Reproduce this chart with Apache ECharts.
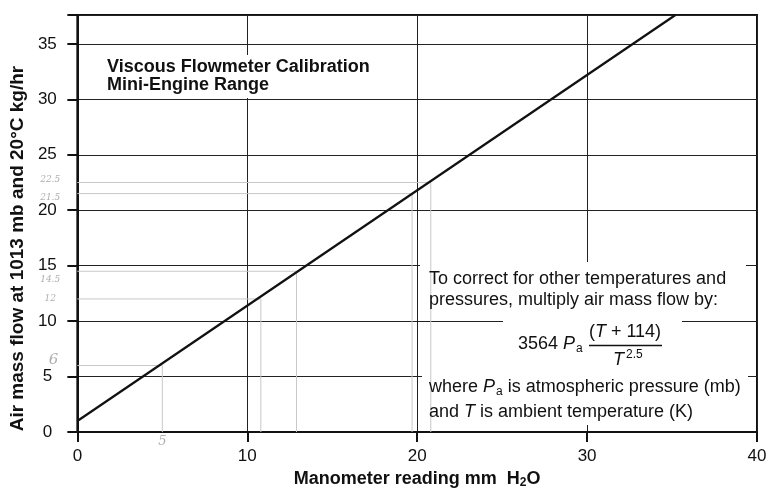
<!DOCTYPE html>
<html><head><meta charset="utf-8">
<script src="https://cdn.jsdelivr.net/npm/echarts@6/dist/echarts.min.js"></script>
<style>html,body{margin:0;padding:0;background:#fff}#c{width:770px;height:494px}</style>
</head><body><div id="c"></div>
<script>
// ---- data ----
const xTicks = [0, 10, 20, 30, 40];
const yTicks = [0, 5, 10, 15, 20, 25, 30, 35];
const calX = [0, 35.2];          // manometer reading (mm H2O)
const calY = [1.0, 37.6];        // air mass flow (kg/hr)
const readY = [22.5, 21.5, 14.5, 12, 6];   // pencil readings (flow)
const readX = [20.8, 19.7, 12.9, 10.8, 5.0]; // pencil readings (manometer)
const readLabels = ['22.5', '21.5', '14.5', '12', '6'];
const readLabelY = [22.8, 21.1, 13.7, 12.0, 6.5];
const readLabelSize = [9, 9, 9, 9, 15];
const readNoteX = [5];
const readNoteLabels = ['5'];

const FONT = '"Liberation Sans", Arial, sans-serif';
const chart = echarts.init(document.getElementById('c'), null, {renderer: 'canvas'});

const series = [];
series.push({
  type: 'line', name: 'calibration', z: 5,
  data: calX.map((x, i) => [x, calY[i]]),
  showSymbol: false, symbol: 'none',
  lineStyle: {color: '#111', width: 2.2}
});
readY.forEach((y, i) => {
  series.push({
    type: 'line', z: 4, silent: true, symbol: 'none',
    data: [[0, y], [readX[i], y], [readX[i], 0]],
    lineStyle: {color: '#c8c8c8', width: 1}
  });
});
// pencil notes
series.push({
  type: 'scatter', z: 4, silent: true, clip: false, symbolSize: 0,
  data: readLabels.map((t, i) => ({value: [i === 4 ? -1.4 : -1.6, readLabelY[i]], name: t,
    label: {fontSize: readLabelSize[i]}})),
  label: {show: true, position: 'inside', formatter: p => p.name,
    color: '#9a9a9a', fontFamily: '"DejaVu Serif", serif', fontStyle: 'italic', fontSize: 9}
});
series.push({
  type: 'scatter', z: 4, silent: true, clip: false, symbolSize: 0,
  data: readNoteX.map((x, i) => ({value: [x, -0.9], name: readNoteLabels[i]})),
  label: {show: true, position: 'inside', formatter: p => p.name,
    color: '#9a9a9a', fontFamily: '"DejaVu Serif", serif', fontStyle: 'italic', fontSize: 13}
});

const option = {
  animation: false,
  backgroundColor: '#fff',
  grid: {left: 77, right: 13, top: 15, bottom: 54, show: true, borderColor: '#111', borderWidth: 2, backgroundColor: 'transparent'},
  xAxis: {
    type: 'value', min: xTicks[0], max: xTicks[xTicks.length - 1], interval: 10,
    name: 'Manometer reading mm  H{sub|2}O',
    nameLocation: 'middle', nameGap: 28,
    nameTextStyle: {fontFamily: FONT, fontWeight: 'bold', fontSize: 18, color: '#111',
      rich: {sub: {fontFamily: FONT, fontWeight: 'bold', fontSize: 12, color: '#111', verticalAlign: 'bottom', padding: [8, 0, 0, 0]}}},
    axisLine: {show: true, onZero: false, lineStyle: {color: '#111', width: 2}},
    axisTick: {show: true, inside: false, length: 10, lineStyle: {color: '#111', width: 2}},
    axisLabel: {fontFamily: FONT, fontSize: 17, color: '#111', margin: 16},
    splitLine: {show: true, lineStyle: {color: '#222', width: 1}}
  },
  yAxis: {
    type: 'value', min: yTicks[0], max: 37.6, interval: 5,
    name: 'Air mass flow at 1013 mb and 20°C kg/hr',
    nameLocation: 'middle', nameGap: 48,
    nameTextStyle: {fontFamily: FONT, fontWeight: 'bold', fontSize: 19, color: '#111', padding: [0, 50, 0, 0]},
    axisLine: {show: true, onZero: false, lineStyle: {color: '#111', width: 2}},
    axisTick: {show: true, inside: false, length: 10, lineStyle: {color: '#111', width: 2}},
    axisLabel: {fontFamily: FONT, fontSize: 17, color: '#111', margin: 30, align: 'center',
      formatter: v => (yTicks.indexOf(v) >= 0 ? String(v) : '')},
    splitLine: {show: true, lineStyle: {color: '#222', width: 1}}
  },
  series: series,
  graphic: [
    // title block
    {type: 'rect', z: 1, silent: true, shape: {x: 100, y: 55, width: 276, height: 43}, style: {fill: '#fff'}},
    {type: 'text', z: 6, silent: true, style: {x: 107, y: 67, text: 'Viscous Flowmeter Calibration', font: 'bold 18px ' + FONT, fill: '#111', verticalAlign: 'middle'}},
    {type: 'text', z: 6, silent: true, style: {x: 107, y: 85, text: 'Mini-Engine Range', font: 'bold 18px ' + FONT, fill: '#111', verticalAlign: 'middle'}},
    // correction note blocks
    {type: 'rect', z: 1, silent: true, shape: {x: 420, y: 262, width: 326, height: 48}, style: {fill: '#fff'}},
    {type: 'rect', z: 1, silent: true, shape: {x: 503, y: 310, width: 179, height: 58}, style: {fill: '#fff'}},
    {type: 'rect', z: 1, silent: true, shape: {x: 422, y: 368, width: 326, height: 57}, style: {fill: '#fff'}},
    {type: 'text', z: 6, silent: true, style: {x: 429, y: 279, text: 'To correct for other temperatures and', font: '18px ' + FONT, fill: '#111', verticalAlign: 'middle'}},
    {type: 'text', z: 6, silent: true, style: {x: 429, y: 300, text: 'pressures, multiply air mass flow by:', font: '18px ' + FONT, fill: '#111', verticalAlign: 'middle'}},
    {type: 'text', z: 6, silent: true, style: {x: 518, y: 344, text: '3564 {i|P}{s|a}', font: '18px ' + FONT, fill: '#111', verticalAlign: 'middle',
      rich: {i: {fontFamily: FONT, fontSize: 18, fontStyle: 'italic', fill: '#111'}, s: {fontFamily: FONT, fontSize: 12, fill: '#111', padding: [10, 0, 0, 1]}}}},
    {type: 'text', z: 6, silent: true, style: {x: 625, y: 332, text: '({i|T} + 114)', font: '18px ' + FONT, fill: '#111', align: 'center', verticalAlign: 'middle',
      rich: {i: {fontFamily: FONT, fontSize: 18, fontStyle: 'italic', fill: '#111'}}}},
    {type: 'line', z: 6, silent: true, shape: {x1: 589, y1: 345.5, x2: 662, y2: 345.5}, style: {stroke: '#111', lineWidth: 1.5}},
    {type: 'text', z: 6, silent: true, style: {x: 613, y: 360, text: '{i|T}{p|2.5}', font: '18px ' + FONT, fill: '#111', verticalAlign: 'middle',
      rich: {i: {fontFamily: FONT, fontSize: 18, fontStyle: 'italic', fill: '#111'}, p: {fontFamily: FONT, fontSize: 12, fill: '#111', padding: [0, 0, 10, 2]}}}},
    {type: 'text', z: 6, silent: true, style: {x: 429, y: 387, text: 'where {i|P}{s|a} is atmospheric pressure (mb)', font: '18px ' + FONT, fill: '#111', verticalAlign: 'middle',
      rich: {i: {fontFamily: FONT, fontSize: 18, fontStyle: 'italic', fill: '#111'}, s: {fontFamily: FONT, fontSize: 12, fill: '#111', padding: [10, 0, 0, 1]}}}},
    {type: 'text', z: 6, silent: true, style: {x: 429, y: 412, text: 'and {i|T} is ambient temperature (K)', font: '18px ' + FONT, fill: '#111', verticalAlign: 'middle',
      rich: {i: {fontFamily: FONT, fontSize: 18, fontStyle: 'italic', fill: '#111'}}}}
  ]
};
chart.setOption(option);
</script>
</body></html>
